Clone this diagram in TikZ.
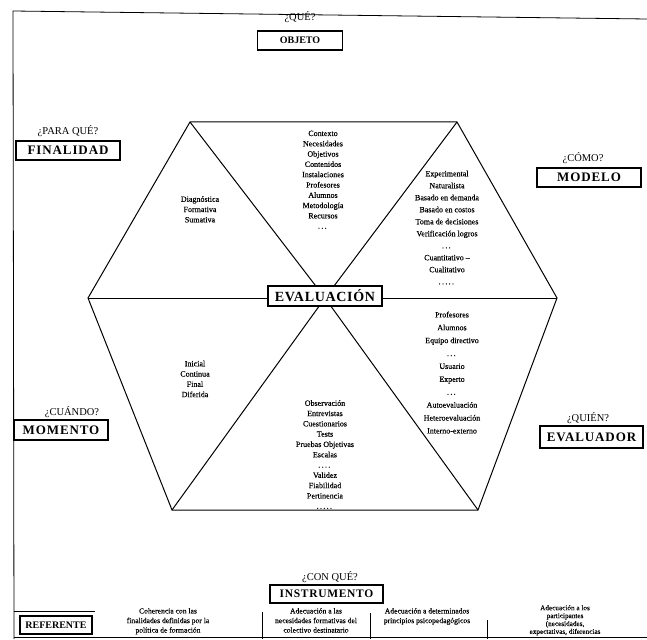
\documentclass[tikz,border=0pt]{standalone}
\usepackage{fontspec}
\setmainfont{Liberation Serif}
\newcommand{\dotrow}[1]{\foreach \k in {1,...,#1}{.\,}\unskip}
\begin{document}
\begin{tikzpicture}[x=1pt,y=-1pt,
  ask/.style={font=\fontsize{10.5}{11}\selectfont, inner sep=0pt},
  tag/.style={draw, line width=1.1pt, fill=white, inner sep=0pt,
    font=\fontsize{13}{14}\selectfont\bfseries\addfontfeature{LetterSpace=7}},
  smalltag/.style={tag, font=\fontsize{10}{11}\selectfont\bfseries},
  list/.style={font=\fontsize{8}{10.3}\selectfont\addfontfeature{FakeBold=0.3}, align=center, inner sep=0pt, anchor=north},
  cell/.style={font=\fontsize{7.6}{9.6}\selectfont\addfontfeature{FakeBold=0.3}, align=center, inner sep=0pt, anchor=north},
  side/.style={line width=1pt},
  rule/.style={line width=0.8pt}]
\useasboundingbox (0,0) rectangle (647,639);

% outer frame
\coordinate (fTL) at (13,11);
\coordinate (fTR) at (647,19);
\coordinate (fBL) at (14,639);
\draw[rule] (fTR) -- (fTL) -- (fBL);

% hexagon corners and centre
\coordinate (hA) at (190,122);
\coordinate (hB) at (457,122);
\coordinate (hC) at (557,298);
\coordinate (hD) at (478,510);
\coordinate (hE) at (172,510);
\coordinate (hF) at (88,298);
\coordinate (hO) at (325,298);

\draw[side] (hA) -- (hB) -- (hC) -- (hD) -- (hE) -- (hF) -- cycle;
\draw[side] (hA) -- (hO) -- (hD);
\draw[side] (hB) -- (hO) -- (hE);

% centre label
\node[tag, minimum width=114pt, minimum height=20pt,
  font=\fontsize{14}{15}\selectfont\bfseries\addfontfeature{LetterSpace=5}] (eval) at (325,296) {EVALUACIÓN};
\draw[side] (hF) -- (eval.west |- hF);
\draw[side] (eval.east |- hC) -- (hC);

% question labels
\node[ask] (q1) at (300,17) {¿QUÉ?};
\node[smalltag, minimum width=85pt, minimum height=19pt] (objeto) at (300,40.5) {OBJETO};

\node[ask] (q2) at (68,131) {¿PARA QUÉ?};
\node[tag, minimum width=104pt, minimum height=19pt] (finalidad) at (68,150.5) {FINALIDAD};

\node[ask] (q3) at (583,158) {¿CÓMO?};
\node[tag, minimum width=104pt, minimum height=19pt] (modelo) at (589,177.5) {MODELO};

\node[ask] (q4) at (72,412) {¿CUÁNDO?};
\node[tag, minimum width=94pt, minimum height=20pt] (momento) at (61,430) {MOMENTO};

\node[ask] (q5) at (588,418) {¿QUIÉN?};
\node[tag, minimum width=103pt, minimum height=22pt] (evaluador) at (591.5,437) {EVALUADOR};

\node[ask] (q6) at (330,577) {¿CON QUÉ?};
\node[tag, minimum width=113pt, minimum height=18pt,
  font=\fontsize{11.5}{12}\selectfont\bfseries\addfontfeature{LetterSpace=6}] (instrumento) at (326.5,594) {INSTRUMENTO};

% contents of the six sectors
\node[list] (objetoList) at (323,130.5) {Contexto\\Necesidades\\Objetivos\\Contenidos\\Instalaciones\\Profesores\\Alumnos\\Metodología\\Recursos\\\dotrow{3}};
\node[list] (finalidadList) at (200,196) {Diagnóstica\\Formativa\\Sumativa};
\node[list, font=\fontsize{8}{12}\selectfont\addfontfeature{FakeBold=0.3}] (modeloList) at (447,170.5) {Experimental\\Naturalista\\Basado en demanda\\Basado en costos\\Toma de decisiones\\Verificación logros\\\dotrow{3}\\Cuantitativo --\\Cualitativo\\\dotrow{5}};
\node[list] (momentoList) at (195,360.5) {Inicial\\Continua\\Final\\Diferida};
\node[list] (instrumentoList) at (325,400) {Observación\\Entrevistas\\Cuestionarios\\Tests\\Pruebas Objetivas\\Escalas\\\dotrow{4}\\Validez\\Fiabilidad\\Pertinencia\\\dotrow{5}};
\node[list, font=\fontsize{8}{12.9}\selectfont\addfontfeature{FakeBold=0.3}] (evaluadorList) at (452,311.5) {Profesores\\Alumnos\\Equipo directivo\\\dotrow{3}\\Usuario\\Experto\\\dotrow{3}\\Autoevaluación\\Heteroevaluación\\Interno-externo};

% referent row
\coordinate (rL) at (14,611);
\coordinate (rR) at (95,611);
\draw[rule] (rL) -- (rR);
\coordinate (bL) at (14,637);
\coordinate (bR) at (647,637);
\draw[rule] (bL) -- (bR);
\node[smalltag, minimum width=72pt, minimum height=18pt] (referente) at (56,625) {REFERENTE};

\node[cell] (c1) at (168,608) {Coherencia con las\\finalidades definidas por la\\política de formación};
\node[cell] (c2) at (316,608) {Adecuación a las\\necesidades formativas del\\colectivo destinatario};
\node[cell] (c3) at (427,608) {Adecuación a determinados\\principios psicopedagógicos};
\node[cell, font=\fontsize{7.2}{7.9}\selectfont\addfontfeature{FakeBold=0.3}] (c4) at (565,605) {Adecuación a los\\participantes\\(necesidades,\\expectativas, diferencias};

\coordinate (s1t) at (262,612);
\coordinate (s1b) at (262,639);
\coordinate (s2t) at (370,613);
\coordinate (s2b) at (370,639);
\coordinate (s3t) at (487,620);
\coordinate (s3b) at (487,639);
\draw[rule] (s1t) -- (s1b);
\draw[rule] (s2t) -- (s2b);
\draw[rule] (s3t) -- (s3b);
\end{tikzpicture}
\end{document}
